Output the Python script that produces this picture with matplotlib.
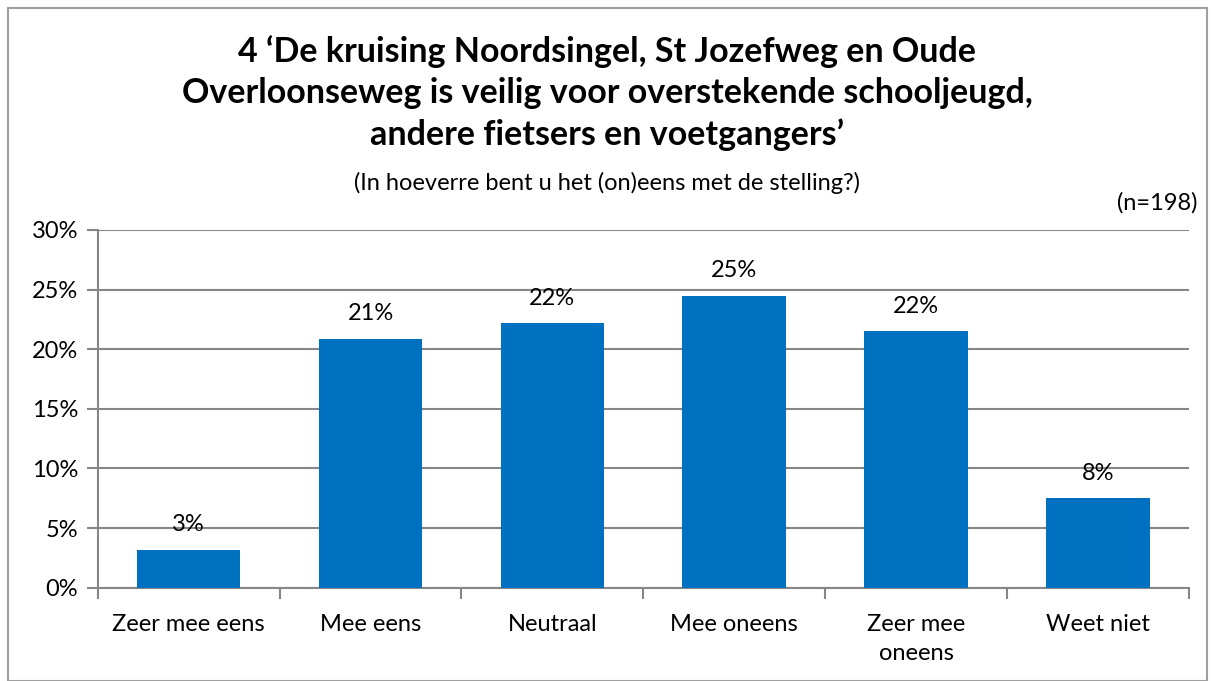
import numpy as np
import matplotlib.pyplot as plt
from matplotlib.patches import Rectangle

categories = ['Zeer mee eens', 'Mee eens', 'Neutraal', 'Mee oneens', 'Zeer mee\noneens', 'Weet niet']
values = [3.2, 20.9, 22.2, 24.5, 21.5, 7.5]
labels = ['3%', '21%', '22%', '25%', '22%', '8%']
yticks = [0, 5, 10, 15, 20, 25, 30]

title = "4 \u2018De kruising Noordsingel, St Jozefweg en Oude\nOverloonseweg is veilig voor overstekende schooljeugd,\nandere fietsers en voetgangers\u2019"
subtitle = '(In hoeverre bent u het (on)eens met de stelling?)'
n_text = '(n=198)'

plt.rcParams['font.family'] = ['Lato', 'DejaVu Sans']
grey = '#868686'
blue = '#0070C0'
fs = 17

fig = plt.figure(figsize=(12.14, 6.81), dpi=100)
fig.patches.append(Rectangle((8/1214, 0), 1199/1214, 1 - 8/681, transform=fig.transFigure,
                             fill=False, edgecolor='#A0A0A0', linewidth=1.5))

ax = fig.add_axes([97.7/1214, 1 - 587.7/681, (1189 - 97.7)/1214, (587.7 - 230)/681])
x = np.arange(len(categories))
ax.bar(x, values, width=0.57, color=blue, zorder=3)
for xi, v, lab in zip(x, values, labels):
    ax.text(xi, v + 1.2, lab, ha='center', va='bottom', fontsize=fs, zorder=4)

ax.set_xlim(-0.5, len(categories) - 0.5)
ax.set_ylim(0, 30)
ax.set_yticks(yticks)
ax.set_yticklabels([f'{t}%' for t in yticks], fontsize=fs)
ax.yaxis.grid(True, color=grey, linewidth=1.5, zorder=0)
ax.set_xticks(np.arange(-0.5, len(categories)), minor=False)
ax.set_xticklabels([])
ax.set_xticks(x, minor=True)
ax.set_xticklabels(categories, minor=True, fontsize=fs, linespacing=1.45)
ax.tick_params(axis='x', which='minor', length=0, pad=19)
ax.tick_params(axis='x', which='major', length=8, color=grey, width=1.5)
ax.tick_params(axis='y', length=8, color=grey, width=1.5, pad=6)
for s in ['top', 'right']:
    ax.spines[s].set_visible(False)
for s in ['left', 'bottom']:
    ax.spines[s].set_color(grey)
    ax.spines[s].set_linewidth(1.5)

fig.text(607/1214, 1 - 93/681, title, ha='center', va='center', fontsize=24.5,
         fontweight='bold', linespacing=1.36)
fig.text(607/1214, 1 - 183/681, subtitle, ha='center', va='center', fontsize=fs)
fig.text(1198/1214, 1 - 203/681, n_text, ha='right', va='center', fontsize=fs)

fig.savefig('out.png', dpi=100)
